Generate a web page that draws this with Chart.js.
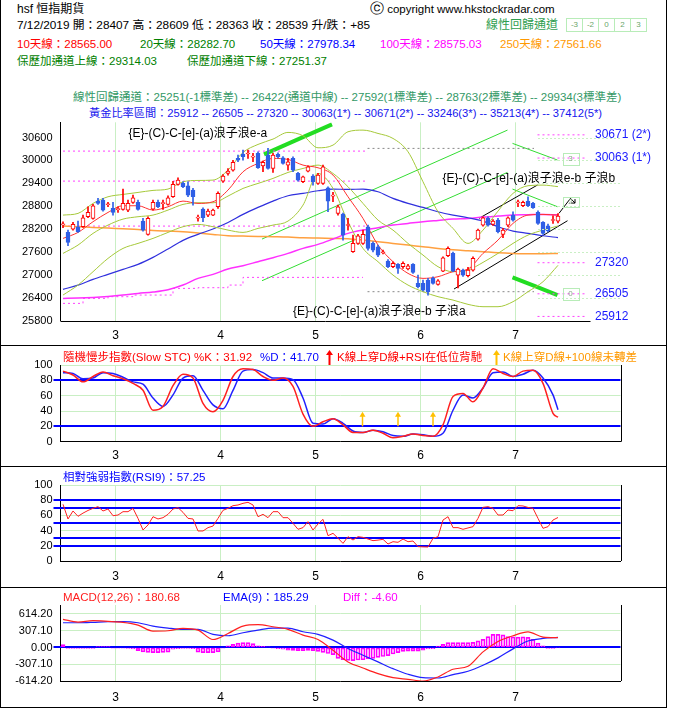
<!DOCTYPE html>
<html>
<head>
<meta charset="utf-8">
<script src="https://cdn.jsdelivr.net/npm/chart.js@4.4.1/dist/chart.umd.min.js"></script>
<style>
html, body { margin: 0; padding: 0; background: #fff; }
#page { position: relative; width: 677px; height: 717px; overflow: hidden; font-family: "Liberation Sans", "Noto Sans CJK TC", sans-serif; font-size: 11.5px; color: #000; }
.t { position: absolute; white-space: nowrap; line-height: 14px; }
canvas { position: absolute; left: 0; }
.ln { position: absolute; background: #000; }
.cell { position: absolute; top: 18px; width: 15px; height: 12px; border: 1px solid #b8ecb8; font-size: 8px; line-height: 12px; text-align: center; color: #6aa66a; }
</style>
</head>
<body>
<div id="page">
  <div class="t" style="left:17px;top:2px;font-size:12px">hsf 恒指期貨</div>
  <div class="t" style="left:370px;top:1px;font-size:11.5px"><span style="font-family:'DejaVu Sans';font-size:14px">ⓒ</span> copyright www.hkstockradar.com</div>
  <div class="t" style="left:17px;top:18px;font-size:11.8px">7/12/2019 開：28407 高：28609 低：28363 收：28539 升/跌：+85</div>
  <div class="t" style="left:486px;top:18px;color:#2f9e4f;font-size:12px">線性回歸通道</div>
  <div class="cell" style="left:566px">-3</div>
  <div class="cell" style="left:582px">-2</div>
  <div class="cell" style="left:598px">0</div>
  <div class="cell" style="left:614px">2</div>
  <div class="cell" style="left:630px">3</div>
  <div class="t" style="left:17px;top:37px;color:#ff0000">10天線：28565.00</div>
  <div class="t" style="left:140px;top:37px;color:#008000">20天線：28282.70</div>
  <div class="t" style="left:260px;top:37px;color:#0000ff">50天線：27978.34</div>
  <div class="t" style="left:380px;top:37px;color:#ff00ff">100天線：28575.03</div>
  <div class="t" style="left:500px;top:37px;color:#ff9900">250天線：27561.66</div>
  <div class="t" style="left:17px;top:54px;color:#008000">保歷加通道上線：29314.03</div>
  <div class="t" style="left:187px;top:54px;color:#008000">保歷加通道下線：27251.37</div>
  <div class="t" style="left:73px;top:90px;color:#339966">線性回歸通道：25251(-1標準差) -- 26422(通道中線) -- 27592(1標準差) -- 28763(2標準差) -- 29934(3標準差)</div>
  <div class="t" style="left:89px;top:106px;color:#1515ee;font-size:11.2px">黃金比率區間：25912 -- 26505 -- 27320 -- 30063(1*) -- 30671(2*) -- 33246(3*) -- 35213(4*) -- 37412(5*)</div>

  <canvas id="cMain" width="677" height="245" style="top:100px"></canvas>
  <canvas id="cStc" width="677" height="121" style="top:345px"></canvas>
  <canvas id="cRsi" width="677" height="121" style="top:466px"></canvas>
  <canvas id="cMacd" width="677" height="120" style="top:587px"></canvas>

  <div class="t" style="left:63px;top:350px;color:#ff0000">隨機慢步指數(Slow STC) %K：31.92</div>
  <div class="t" style="left:260px;top:350px;color:#0000ff">%D：41.70</div>
  <svg style="position:absolute;left:326px;top:350px" width="7" height="15"><path d="M3.5 0 L7 5 L4.5 5 L4.5 15 L2.5 15 L2.5 5 L0 5 Z" fill="#ff0000"/></svg>
  <div class="t" style="left:337px;top:350px;color:#ff0000">K線上穿D線+RSI在低位背馳</div>
  <svg style="position:absolute;left:493px;top:350px" width="7" height="15"><path d="M3.5 0 L7 5 L4.5 5 L4.5 15 L2.5 15 L2.5 5 L0 5 Z" fill="#ffc000"/></svg>
  <div class="t" style="left:503px;top:350px;color:#ff9900">K線上穿D線+100線未轉差</div>
  <div class="t" style="left:63px;top:470px;color:#0000ff">相對強弱指數(RSI9)：57.25</div>
  <div class="t" style="left:63px;top:590px;color:#ff2020">MACD(12,26)：180.68</div>
  <div class="t" style="left:223px;top:590px;color:#0000ff">EMA(9)：185.29</div>
  <div class="t" style="left:343px;top:590px;color:#ff00ff">Diff：-4.60</div>

  <div class="ln" style="left:0;top:0;width:1px;height:708px"></div>
  <div class="ln" style="left:666px;top:0;width:1px;height:708px"></div>
  <div class="ln" style="left:0;top:345px;width:667px;height:1px"></div>
  <div class="ln" style="left:0;top:466px;width:667px;height:1px"></div>
  <div class="ln" style="left:0;top:587px;width:667px;height:1px"></div>
  <div class="ln" style="left:0;top:707px;width:667px;height:1px"></div>
</div>
<script>
Chart.defaults.font.family = '"Liberation Sans", "Noto Sans CJK TC", sans-serif';
Chart.defaults.color = '#000';
var GRID = '#c9efc4';
var RED = '#ff0000', BLUE = '#2f5fe6';

// x = trading day index: 0 = 14 Feb 2019 ... 99 = 12 Jul 2019
var monthTickIdx = [10.5, 31.5, 50.5, 71.5, 90.5];
var monthLabels = ['3', '4', '5', '6', '7'];

var open = [28310,28114,28202,28263,28263,28525,28481,28935,28961,28840,
  28743,28710,28717,28700,28900,28900,28411,28062,28725,28900,
  28870,28848,29048,29372,29398,29337,29223,28490,28725,28568,
  28568,28786,29459,29660,29748,30053,30158,30170,30086,30184,
  29860,30140,29790,30158,30070,29878,30053,29660,29441,29721,
  29590,29398,29398,29284,29065,28612,28594,28296,27608,27826,
  27826,28262,27826,27738,27580,27363,27215,27276,27215,27154,
  27276,26778,26778,26865,26909,26752,27101,27503,27564,26996,
  27127,26979,27127,27940,28306,28481,28324,28437,28062,28306,
  28568,28890,28813,28935,28874,28638,28376,28289,28427,28407];
var high = [28394,28175,28376,28411,28568,28786,28848,29005,29005,28900,
  28900,28787,29249,28961,29092,28961,28481,28525,28961,28961,
  28961,29075,29450,29546,29441,29441,29267,28568,28760,28725,
  28725,29180,29633,29790,30000,30140,30270,30270,30184,30228,
  29983,30315,30184,30200,30100,30053,30096,29686,29590,29860,
  29633,29660,29878,29310,29162,28830,28620,28481,28044,28062,
  28175,28306,27870,27782,27650,27400,27346,27300,27346,27280,
  27300,26996,26865,26909,26950,26880,27477,27739,27600,27180,
  27150,27200,27477,28200,28525,28525,28450,28481,28219,28525,
  28656,28961,28935,29048,28900,28680,28400,28330,28550,28609];
var low = [28237,27765,28175,28114,28245,28499,28463,28848,28673,28787,
  28568,28638,28700,28656,28874,28699,28149,28044,28699,28760,
  28717,28830,29030,29354,29284,29048,28830,28411,28394,28525,
  28550,28743,29424,29616,29720,29966,30009,30053,29966,29790,
  29703,29773,29686,30060,29900,29747,29703,29459,29420,29700,
  29354,29370,29372,28656,28918,28568,27913,28175,27590,27800,
  27800,27651,27600,27477,27550,27190,27190,27040,27171,27130,
  27040,26660,26578,26472,26760,26734,27084,27477,27084,26660,
  26960,26950,27101,27913,28280,28280,28300,28100,27975,28262,
  28411,28787,28790,28787,28740,28324,28062,28130,28350,28363];
var close = [28330,27852,28324,28132,28499,28638,28813,28874,28700,28860,
  28638,28725,28874,28874,29022,28717,28175,28481,28900,28786,
  28890,29022,29372,29485,29310,29092,29048,28510,28499,28673,
  28700,29136,29590,29720,29948,30009,30096,30190,30106,29808,
  29948,29790,30140,30096,29922,29966,29748,29485,29572,29835,
  29441,29616,29835,28935,29085,28786,28044,28316,27826,28027,
  28062,27695,27651,27520,27600,27215,27302,27171,27302,27241,
  27066,26690,26603,26560,26778,26848,27450,27695,27101,27154,
  26996,27127,27433,28175,28498,28306,28411,28132,28175,28498,
  28437,28910,28900,28813,28760,28350,28088,28150,28447,28539];

// moving averages / bands read every 3 trading days
var every3 = [0,3,6,9,12,15,18,21,24,27,30,33,36,39,42,45,48,51,54,57,60,63,66,69,72,75,78,81,84,87,90,93,96,99];
var ma10 = [27957,28114,28394,28638,28813,28813,28699,28787,28935,28874,28918,29223,29703,29922,30053,30027,29878,29808,29616,29048,28481,27782,27346,27040,26909,26953,27084,27154,27564,27913,28350,28568,28586,28565];
var ma20 = [27564,27782,28088,28306,28463,28525,28568,28699,28848,28891,28891,29066,29267,29398,29529,29686,29790,29878,29660,29311,28874,28437,28175,27826,27520,27215,27084,27127,27328,27564,27826,28044,28175,28283];
var bbUpper = [28568,28612,28874,29048,29110,29162,29215,29250,29441,29476,29485,29747,30210,30420,30560,30735,30647,30332,30402,30752,30795,30708,30577,30228,29441,28656,28219,27826,28175,28673,29136,29337,29354,29314];
var bbLower = [26472,26734,27084,27433,27695,27826,27957,28114,28263,28324,28263,28175,28114,28219,28306,28411,28830,29660,29267,28394,27695,27346,26996,26734,26560,26429,26341,26228,26167,26167,26298,26560,26822,27251];
var ma50 = [26621,26734,26883,27014,27145,27276,27459,27678,27905,28062,28202,28376,28586,28769,28935,29075,29136,29206,29250,29241,29250,29180,29005,28874,28769,28656,28568,28498,28411,28263,28149,28088,28027,27978];
var ma100 = [26385,26394,26411,26437,26472,26516,26551,26612,26734,26909,27014,27154,27241,27346,27450,27564,27695,27800,27940,28088,28175,28236,28306,28350,28394,28429,28463,28481,28516,28542,28568,28577,28586,28575];
var ma250 = [28280,28263,28245,28228,28210,28193,28167,28149,28132,28097,28062,28027,28018,28009,28001,27992,27975,27966,27957,27948,27913,27870,27826,27782,27739,27695,27660,27634,27608,27581,27564,27555,27555,27562];

var mainTicks = [25800,26400,27000,27600,28200,28800,29400,30000,30600];

// drawn studies on the price panel
var supportStepIdx = [0,4,9,14,22,27,33,36,60];
var supportStepVal = [26254,26385,26429,26472,26647,26665,26734,26935,26935];
var fibLeftLevels = [30245,29459,28280];
var goldLevels = [30671,30063,27320,26505,25912];
var goldLabels = ['30671 (2*)','30063 (1*)','27320','26505','25912'];
var greyLevels = [30316,26560];
var regChannel = [[39.8,27940,88.9,30796],[39.8,26848,88.9,29688]];
var regDown = [[89.9,30448,98.9,30010],[89.9,29250,98.9,28787]];
var thickGreen = [[40.2,30160,53.8,30946],[89.9,26937,98.9,26473]];
var blackChannel = [[78.2,26630,100.9,28420],[83.2,28483,94.9,29356]];
var arrowPath = [[99.2,28614],[101.5,29007],[102.4,28883]];
var boxLo = [29879,28787,26342], boxHi = [30202,29049,26665], boxText = ['3','2','0'];
var waveIdx = [13.1,46,75.9], waveVal = [30710,26036,29531];
var waveText = ['{E}-(C)-C-[e]-(a)浪子浪e-a','{E}-(C)-C-[e]-(a)浪子浪e-b 子浪a','{E}-(C)-C-[e]-(a)浪子浪e-b 子浪b'];

// slow stochastic, read every 2 trading days
var every2 = [0,2,4,6,8,10,12,14,16,18,20,22,24,26,28,30,32,34,36,38,40,42,44,46,48,50,52,54,56,58,60,62,64,66,68,70,72,74,76,78,80,82,84,86,88,90,92,94,96,98,99];
var stcK = [92,87,78,85,91,86,82,76,67,41,46,73,88,83,50,39,54,85,95,94,85,80,83,72,36,20,26,30,22,12,12,15,11,5,7,10,8,7,22,59,63,52,70,95,89,85,92,93,76,37,31.92];
var stcD = [90,89,82,83,90,89,84,78,75,57,46,61,83,86,67,48,43,67,92,94,90,83,83,81,57,24,23,30,24,14,12,15,13,8,7,10,9,7,11,41,61,57,70,90,91,85,88,93,83,61,41.7];
var stcArrowIdx = [59.9,67,74];

var rsi = [74.6,55.3,65.8,58.8,63,66.5,69.3,71.5,65.8,68.4,
  59.6,60.5,64.9,64.9,69.3,56.1,40.8,47.4,58.3,55.3,
  57,61.4,68.4,70.2,64,56.1,55.3,39.5,39.5,43.9,
  46,56.1,66.7,69.3,72.8,73.7,75.9,77.2,73.7,58.3,
  61.4,57,64.9,64.9,57,57,49.6,41.7,43.9,51.8,
  40.8,48.7,54.8,33.3,36.4,30,23.2,32,27.6,32,
  31.1,28.9,26.8,27.5,28.5,22.4,25.4,24.6,28.9,25.4,
  26.3,18.9,18.6,18.4,29.8,32,53.9,58.3,43.9,43.9,
  41.7,43.5,45.2,56.1,70.6,71.5,69.3,60.5,60.5,67.1,
  66.2,72.8,72.4,70.5,69.3,56.1,43,45.2,53.9,57.25];

var macd = [516,467,491,479,461,411,301,307,350,319,147,258,393,418,381,332,227,147,-50,-264,-375,-479,-553,-583,-614,-540,-399,-344,-80,110,215,285,190,180.68];
var ema9 = [454,454,461,473,473,454,393,356,332,332,240,215,270,319,356,356,289,240,135,-18,-141,-264,-387,-491,-553,-559,-498,-436,-326,-190,-25,120,166,185.29];
var diff = [55,-15,-15,-15,-15,-15,-15,15,15,15,
  -10,-10,-10,-15,-25,-60,-80,-90,-95,-95,
  -90,-85,-30,-20,-15,-15,-20,-85,-95,-95,
  -95,-80,-10,30,60,80,90,90,70,30,
  20,10,-10,-20,-30,-50,-55,-60,-60,-55,
  -60,-70,-90,-110,-130,-200,-225,-235,-240,-230,
  -225,-210,-200,-180,-165,-150,-120,-95,-70,-65,
  -65,-65,-50,-25,-20,25,60,90,90,90,
  90,90,95,120,150,200,240,240,230,200,
  195,190,195,185,150,80,30,-15,-15,-4.6];
var macdTicks = [-614.2,-307.1,0,307.1,614.2];

function pts(xs, ys) { return xs.map(function (x, k) { return { x: x, y: ys[k] }; }); }
function seg(s) { return [{ x: s[0], y: s[1] }, { x: s[2], y: s[3] }]; }
function lineDs(data, color, width, extra) {
  var d = { type: 'line', data: data, borderColor: color, borderWidth: width, pointRadius: 0, fill: false, order: 3, cubicInterpolationMode: 'monotone' };
  for (var k in extra) d[k] = extra[k];
  return d;
}

function xAxis(h, pad, border) {
  return {
    type: 'linear', min: -0.5, max: 111.5, offset: false,
    afterBuildTicks: function (s) { s.ticks = monthTickIdx.map(function (v) { return { value: v }; }); },
    afterFit: function (s) { s.height = h; },
    grid: { color: GRID, drawTicks: false, offset: false },
    border: { display: border, color: '#000' },
    ticks: { callback: function (v, i) { return monthLabels[i]; }, font: { size: 12 }, color: '#000', padding: pad, maxRotation: 0, autoSkip: false }
  };
}
function yAxis(min, max, ticks, fmt, gridColor) {
  return {
    min: min, max: max,
    afterBuildTicks: function (s) { s.ticks = ticks.map(function (v) { return { value: v }; }); },
    afterFit: function (s) { s.width = 60.5; },
    grid: { display: gridColor !== null, color: gridColor || GRID, drawTicks: false },
    border: { color: '#000' },
    ticks: { callback: fmt, font: { size: 11 }, color: '#000', padding: 8, autoSkip: false }
  };
}
function skipGrid(vals) {
  return function (c) { return (c.tick && vals.indexOf(c.tick.value) >= 0) ? 'rgba(0,0,0,0)' : GRID; };
}
function panelDeco(blueVals, extra) {
  return {
    id: 'deco',
    beforeDatasetsDraw: function (chart) {
      var ctx = chart.ctx, a = chart.chartArea, y = chart.scales.y;
      ctx.save();
      ctx.strokeStyle = '#0000ff'; ctx.lineWidth = 2;
      blueVals.forEach(function (v) {
        var py = Math.round(y.getPixelForValue(v));
        ctx.beginPath(); ctx.moveTo(a.left - 7, py); ctx.lineTo(a.right, py); ctx.stroke();
      });
      ctx.restore();
    },
    afterDatasetsDraw: function (chart) {
      var ctx = chart.ctx, a = chart.chartArea;
      ctx.save();
      ctx.strokeStyle = '#000'; ctx.lineWidth = 1;
      ctx.beginPath(); ctx.moveTo(Math.round(a.right) + 0.5, a.top); ctx.lineTo(Math.round(a.right) + 0.5, a.bottom); ctx.stroke();
      if (extra) extra(chart);
      ctx.restore();
    }
  };
}

// ---------- price panel ----------
var up = close.map(function (c, i) { return c >= open[i]; });
var bodies = close.map(function (c, i) { return { x: i, y: [open[i], c] }; });
var wicks = close.map(function (c, i) { return { x: i, y: [low[i], high[i]] }; });

var mainSets = [
  { type: 'bar', data: bodies, order: 0, grouped: false, barThickness: 4, minBarLength: 1, borderWidth: 1, borderSkipped: false,
    backgroundColor: up.map(function (u) { return u ? '#ffffff' : BLUE; }),
    borderColor: up.map(function (u) { return u ? RED : BLUE; }) },
  { type: 'bar', data: wicks, order: 1, grouped: false, barThickness: 1,
    backgroundColor: up.map(function (u) { return u ? RED : BLUE; }) },
  lineDs(pts(every3, ma10), '#ff3030', 1),
  lineDs(pts(every3, ma20), '#a6c93a', 1),
  lineDs(pts(every3, bbUpper), '#a6c93a', 1),
  lineDs(pts(every3, bbLower), '#a6c93a', 1),
  lineDs(pts(every3, ma50), '#3030dd', 1.2),
  lineDs(pts(every3, ma100), '#ff30ff', 1.5),
  lineDs(pts(every3, ma250), '#ffa040', 1.5),
  lineDs(pts(supportStepIdx, supportStepVal), '#ff40ff', 1, { borderDash: [2, 3], stepped: true, cubicInterpolationMode: 'default' })
];
fibLeftLevels.forEach(function (v) { mainSets.push(lineDs(seg([0, v, 61, v]), '#ff40ff', 1, { borderDash: [2, 3] })); });
goldLevels.forEach(function (v) { mainSets.push(lineDs(seg([94.9, v, 104.9, v]), '#ff40ff', 1, { borderDash: [2, 3] })); });
greyLevels.forEach(function (v) { mainSets.push(lineDs(seg([60.9, v, 94.2, v]), '#888888', 1, { borderDash: [2, 3] })); });
regChannel.forEach(function (s) { mainSets.push(lineDs(seg(s), '#33dd33', 1)); });
regDown.forEach(function (s) { mainSets.push(lineDs(seg(s), '#33dd33', 1)); });
thickGreen.forEach(function (s) { mainSets.push(lineDs(seg(s), '#22dd22', 4)); });
blackChannel.forEach(function (s) { mainSets.push(lineDs(seg(s), '#000000', 1)); });
mainSets.push(lineDs(arrowPath.map(function (p) { return { x: p[0], y: p[1] }; }), '#000000', 1, { tension: 0, cubicInterpolationMode: 'default' }));

var mainDeco = {
  id: 'mainDeco',
  afterDatasetsDraw: function (chart) {
    var ctx = chart.ctx, a = chart.chartArea, x = chart.scales.x, y = chart.scales.y;
    ctx.save();
    // bottom axis line stops short of the level labels
    ctx.strokeStyle = '#000'; ctx.lineWidth = 1;
    var by = Math.round(a.bottom) + 0.5;
    ctx.beginPath(); ctx.moveTo(a.left, by); ctx.lineTo(x.getPixelForValue(105.5), by); ctx.stroke();
    // dotted grid on the right side
    ctx.strokeStyle = GRID; ctx.setLineDash([2, 2]);
    mainTicks.slice(1).forEach(function (v) {
      var py = Math.round(y.getPixelForValue(v)) + 0.5;
      ctx.beginPath(); ctx.moveTo(x.getPixelForValue(95), py); ctx.lineTo(a.right, py); ctx.stroke();
    });
    ctx.setLineDash([]);
    // arrow head
    var p1 = arrowPath[arrowPath.length - 1];
    var hx = x.getPixelForValue(p1[0]), hy = y.getPixelForValue(p1[1]);
    ctx.strokeStyle = '#000';
    ctx.beginPath(); ctx.moveTo(hx - 4, hy); ctx.lineTo(hx, hy); ctx.lineTo(hx, hy - 4); ctx.stroke();
    // boxes
    ctx.font = '8px "Liberation Sans"'; ctx.textAlign = 'center'; ctx.textBaseline = 'middle';
    boxText.forEach(function (t, i) {
      var x0 = x.getPixelForValue(99.9), x1 = x.getPixelForValue(103.1);
      var y0 = y.getPixelForValue(boxHi[i]), y1 = y.getPixelForValue(boxLo[i]);
      ctx.strokeStyle = '#b8ecb8';
      ctx.strokeRect(Math.round(x0) + 0.5, Math.round(y0) + 0.5, Math.round(x1 - x0), Math.round(y1 - y0));
      ctx.fillStyle = '#88aa88';
      ctx.fillText(t, (x0 + x1) / 2, (y0 + y1) / 2);
    });
    // wave labels
    ctx.textAlign = 'left';
    ctx.font = '12px "Liberation Sans", "Noto Sans CJK TC"';
    ctx.fillStyle = '#000';
    waveText.forEach(function (t, i) { ctx.fillText(t, x.getPixelForValue(waveIdx[i]), y.getPixelForValue(waveVal[i])); });
    // golden ratio level labels
    ctx.fillStyle = '#1a1aff';
    goldLabels.forEach(function (t, i) { ctx.fillText(t, x.getPixelForValue(106.4), y.getPixelForValue(goldLevels[i])); });
    ctx.restore();
  }
};

new Chart(document.getElementById('cMain'), {
  type: 'bar',
  data: { datasets: mainSets },
  options: {
    responsive: false, animation: false,
    layout: { padding: { top: 22.3, right: 56.5, left: 0, bottom: 0 } },
    plugins: { legend: { display: false }, tooltip: { enabled: false } },
    scales: {
      x: xAxis(24.3, 8, false),
      y: yAxis(25800, 31000, mainTicks, function (v) { return String(v); }, null)
    }
  },
  plugins: [mainDeco]
});

// ---------- slow stochastic ----------
function stcArrows(chart) {
  var ctx = chart.ctx, x = chart.scales.x, y = chart.scales.y;
  ctx.fillStyle = '#ffc000'; ctx.strokeStyle = '#ffc000'; ctx.lineWidth = 1.5;
  stcArrowIdx.forEach(function (i) {
    var px = x.getPixelForValue(i), y0 = y.getPixelForValue(20), y1 = y.getPixelForValue(39);
    ctx.beginPath(); ctx.moveTo(px, y0); ctx.lineTo(px, y1 + 4); ctx.stroke();
    ctx.beginPath(); ctx.moveTo(px, y1); ctx.lineTo(px - 3, y1 + 5); ctx.lineTo(px + 3, y1 + 5); ctx.closePath(); ctx.fill();
  });
}
new Chart(document.getElementById('cStc'), {
  type: 'line',
  data: { datasets: [
    lineDs(pts(every2, stcK), '#ff2020', 1.5),
    lineDs(pts(every2, stcD), '#2020ff', 1.5)
  ] },
  options: {
    responsive: false, animation: false,
    layout: { padding: { top: 20, right: 56.5, left: 0, bottom: 0 } },
    plugins: { legend: { display: false }, tooltip: { enabled: false } },
    scales: {
      x: xAxis(24.3, 7, true),
      y: yAxis(0, 100, [0, 20, 40, 60, 80, 100], function (v) { return String(v); }, skipGrid([20, 80]))
    }
  },
  plugins: [panelDeco([20, 80], stcArrows)]
});

// ---------- RSI ----------
new Chart(document.getElementById('cRsi'), {
  type: 'line',
  data: { datasets: [
    lineDs(rsi.map(function (v, i) { return { x: i, y: v }; }), '#ff2020', 1, { tension: 0, cubicInterpolationMode: 'default' })
  ] },
  options: {
    responsive: false, animation: false,
    layout: { padding: { top: 19, right: 56.5, left: 0, bottom: 0 } },
    plugins: { legend: { display: false }, tooltip: { enabled: false } },
    scales: {
      x: xAxis(26, 8, true),
      y: yAxis(0, 100, [0, 20, 40, 60, 80, 100], function (v) { return String(v); }, skipGrid([20, 80]))
    }
  },
  plugins: [panelDeco([20, 30, 50, 70, 80])]
});

// ---------- MACD ----------
new Chart(document.getElementById('cMacd'), {
  type: 'bar',
  data: { datasets: [
    lineDs(pts(every3, macd), '#ff2020', 1.2, { order: 0 }),
    lineDs(pts(every3, ema9), '#2020ff', 1.2, { order: 1 }),
    { type: 'bar', data: diff.map(function (v, i) { return { x: i, y: v }; }), order: 2, grouped: false, barThickness: 4,
      backgroundColor: 'rgba(255,255,255,0)', borderColor: '#ff00ff', borderWidth: 1, borderSkipped: false }
  ] },
  options: {
    responsive: false, animation: false,
    layout: { padding: { top: 18, right: 56.5, left: 0, bottom: 0 } },
    plugins: { legend: { display: false }, tooltip: { enabled: false } },
    scales: {
      x: xAxis(26, 9, true),
      y: yAxis(-614.2, 779.2, macdTicks, function (v) { return v.toFixed(2); }, skipGrid([0]))
    }
  },
  plugins: [panelDeco([0])]
});
</script>
</body>
</html>
